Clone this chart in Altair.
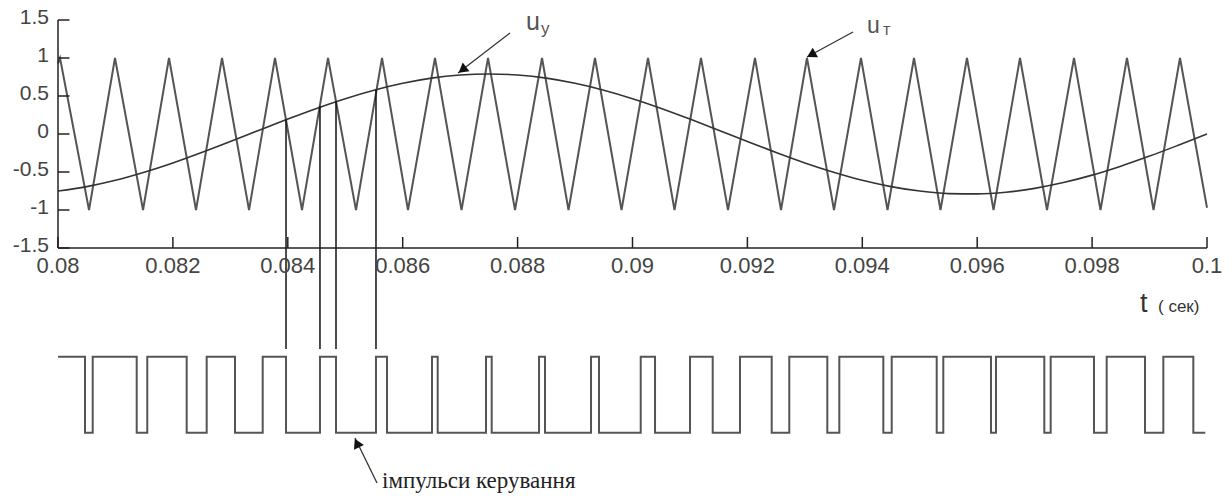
import altair as alt
import pandas as pd

# ---------------- data ----------------
# triangle carrier u_т : times of its peaks (+1) and troughs (-1), seconds
tri_peak_t = [0.080035, 0.080992, 0.081932, 0.082855, 0.083777, 0.084700,
              0.085640, 0.086562, 0.087485, 0.088425, 0.089347, 0.090270,
              0.091192, 0.092132, 0.093037, 0.093977, 0.094900, 0.095822,
              0.096745, 0.097685, 0.098607, 0.099530]
tri_trough_t = [0.080540, 0.081480, 0.082402, 0.083325, 0.084247, 0.085187,
                0.086092, 0.087024, 0.087955, 0.088886, 0.089809, 0.090731,
                0.091662, 0.092585, 0.093507, 0.094439, 0.095361, 0.096284,
                0.097215, 0.098146, 0.099069, 0.100000]
tri_start_v = 0.93
tri_end_v = -0.97

# reference (modulating) signal u_y
sine_t = [0.0800, 0.0805, 0.0810, 0.0815, 0.0820, 0.0825, 0.0830, 0.0835,
          0.0840, 0.0845, 0.0850, 0.0855, 0.0860, 0.0865, 0.0870, 0.0875,
          0.0880, 0.0885, 0.0890, 0.0895, 0.0900, 0.0905, 0.0910, 0.0915,
          0.0920, 0.0925, 0.0930, 0.0935, 0.0940, 0.0945, 0.0950, 0.0955,
          0.0960, 0.0965, 0.0970, 0.0975, 0.0980, 0.0985, 0.0990, 0.0995,
          0.1000]
sine_v = [-0.751, -0.692, -0.609, -0.503, -0.381, -0.244, -0.099, 0.050,
          0.197, 0.337, 0.465, 0.576, 0.667, 0.735, 0.776, 0.790,
          0.776, 0.735, 0.667, 0.576, 0.465, 0.337, 0.197, 0.050,
          -0.099, -0.244, -0.381, -0.503, -0.609, -0.692, -0.751, -0.784,
          -0.788, -0.766, -0.715, -0.639, -0.541, -0.423, -0.291, -0.148,
          0.000]

# control pulses: switching instants (starts high, alternates)
pulse_edges = [0.080470, 0.080604, 0.081370, 0.081554, 0.082240, 0.082588,
               0.083081, 0.083563, 0.083969, 0.084560, 0.084839, 0.085535,
               0.085727, 0.086510, 0.086609, 0.087450, 0.087549, 0.088373,
               0.088477, 0.089278, 0.089417, 0.090143, 0.090392, 0.091001,
               0.091396, 0.091871, 0.092423, 0.092729, 0.093391, 0.093600,
               0.094366, 0.094512, 0.095295, 0.095410, 0.096240, 0.096327,
               0.097168, 0.097279, 0.098033, 0.098254, 0.098921, 0.099240,
               0.099762]
pulse_end_t = 0.09997
pulse_high = -2.93
pulse_low = -3.93

# vertical projection lines from the crossings down to the pulses
conn_t = [0.083969, 0.084560, 0.084839, 0.085535]
conn_top = [0.19, 0.37, 0.43, 0.58]
conn_bottom = -2.83

# axes
x_ticks = [0.080, 0.082, 0.084, 0.086, 0.088, 0.090, 0.092, 0.094, 0.096, 0.098, 0.100]
x_labels = ["0.08", "0.082", "0.084", "0.086", "0.088", "0.09", "0.092",
            "0.094", "0.096", "0.098", "0.1"]
y_ticks = [1.5, 1.0, 0.5, 0.0, -0.5, -1.0, -1.5]
y_labels = ["1.5", "1", "0.5", "0", "-0.5", "-1", "-1.5"]

# ---------------- tables ----------------
tri_t = [0.08]
tri_v = [tri_start_v]
for p, tr in zip(tri_peak_t, tri_trough_t):
    tri_t += [p, tr]
    tri_v += [1.0, -1.0]
tri_v[-1] = tri_end_v
tri_df = pd.DataFrame({"t": tri_t, "v": tri_v, "o": range(len(tri_t))})
sine_df = pd.DataFrame({"t": sine_t, "v": sine_v, "o": range(len(sine_t))})

p_t = [0.08]
p_v = [pulse_high]
lvl = pulse_high
for e in pulse_edges:
    lvl = pulse_low if lvl == pulse_high else pulse_high
    p_t.append(e)
    p_v.append(lvl)
p_t.append(pulse_end_t)
p_v.append(lvl)
pulse_df = pd.DataFrame({"t": p_t, "v": p_v, "o": range(len(p_t))})

conn_df = pd.DataFrame({"t": conn_t, "top": conn_top, "bot": [conn_bottom] * len(conn_t)})

X0, X1, Y0, Y1 = 0.08, 0.1, -4.5, 1.5
xs = alt.Scale(domain=[X0, X1], nice=False, zero=False)
ys = alt.Scale(domain=[Y0, Y1], nice=False, zero=False)

def X(f="t"):
    return alt.X(f + ":Q", scale=xs, axis=None)

def Y(f="v"):
    return alt.Y(f + ":Q", scale=ys, axis=None)

FONT = "Liberation Sans"

tri = alt.Chart(tri_df).mark_line(color="#555555", strokeWidth=2).encode(
    x=X(), y=Y(), order="o:Q")
sine = alt.Chart(sine_df).mark_line(color="#333333", strokeWidth=1.6,
                                    interpolate="monotone").encode(
    x=X(), y=Y(), order="o:Q")
pulse = alt.Chart(pulse_df).mark_line(color="#555555", strokeWidth=2,
                                      interpolate="step-after").encode(
    x=X(), y=Y(), order="o:Q")
conn = alt.Chart(conn_df).mark_rule(color="#111111", strokeWidth=1.5).encode(
    x=X(), y=Y("top"), y2="bot:Q")

# axis lines
axis_df = pd.DataFrame({"x": [X0, X0], "x2": [X0, X1], "y": [-1.5, -1.5], "y2": [1.5, -1.5]})
axes = alt.Chart(axis_df).mark_rule(color="#222222", strokeWidth=1.5).encode(
    x=X("x"), x2="x2:Q", y=Y("y"), y2="y2:Q")

xt_df = pd.DataFrame({"t": x_ticks, "lab": x_labels,
                      "y": [-1.5] * len(x_ticks), "y2": [-1.5 + 0.145] * len(x_ticks)})
xt = alt.Chart(xt_df).mark_rule(color="#222222", strokeWidth=1.5).encode(
    x=X(), y=Y("y"), y2="y2:Q")
xl = alt.Chart(xt_df).mark_text(font=FONT, fontSize=22, color="#444444",
                                baseline="alphabetic", align="center", dy=25).encode(
    x=X(), y=Y("y"), text="lab:N")

yt_df = pd.DataFrame({"v": y_ticks, "lab": y_labels,
                      "x": [X0] * len(y_ticks), "x2": [X0 + 0.0002] * len(y_ticks)})
yt = alt.Chart(yt_df).mark_rule(color="#222222", strokeWidth=1.5).encode(
    x=X("x"), x2="x2:Q", y=Y())
yl = alt.Chart(yt_df).mark_text(font=FONT, fontSize=21, color="#444444",
                                baseline="middle", align="right", dx=-9, dy=-2).encode(
    x=X("x"), y=Y(), text="lab:N")

# annotation texts
txt_df = pd.DataFrame([
    {"t": 0.088146, "v": 1.368, "s": "u", "size": 25, "font": FONT, "c": "#555555"},
    {"t": 0.088407, "v": 1.316, "s": "у", "size": 17, "font": FONT, "c": "#555555"},
    {"t": 0.094082, "v": 1.329, "s": "u", "size": 23, "font": FONT, "c": "#555555"},
    {"t": 0.094360, "v": 1.303, "s": "т", "size": 16, "font": FONT, "c": "#555555"},
    {"t": 0.098834, "v": -2.342, "s": "t", "size": 27, "font": FONT, "c": "#333333"},
    {"t": 0.099147, "v": -2.342, "s": "( сек)", "size": 17, "font": FONT, "c": "#333333"},
    {"t": 0.085640, "v": -4.658, "s": "імпульси керування", "size": 23,
     "font": "Liberation Serif", "c": "#222222"},
])
texts = []
for _, r in txt_df.iterrows():
    texts.append(
        alt.Chart(pd.DataFrame([r])).mark_text(
            font=r["font"], fontSize=int(r["size"]), color=r["c"],
            align="left", baseline="alphabetic").encode(
            x=X(), y=Y(), text="s:N"))

# arrows
arr_df = pd.DataFrame({
    "t": [0.087868, 0.093838, 0.085553],
    "v": [1.329, 1.342, -4.592],
    "t2": [0.086963, 0.093037, 0.085170],
    "v2": [0.803, 1.013, -4.0],
})
head_df = pd.DataFrame({
    "t": [0.087060, 0.093135, 0.085214],
    "v": [0.858, 1.053, -4.085],
    "ang": [232, 241, 334],
})
shafts = alt.Chart(arr_df).mark_rule(color="#333333", strokeWidth=1.3).encode(
    x=X(), x2="t2:Q", y=Y(), y2="v2:Q")
heads = alt.Chart(head_df).mark_point(shape="triangle", filled=True, size=120,
                                      color="#111111", opacity=1).encode(
    x=X(), y=Y(), angle=alt.Angle("ang:Q", scale=None))

chart = alt.layer(tri, sine, conn, pulse, axes, xt, xl, yt, yl, shafts, heads, *texts).properties(
    width=1149, height=456,
    padding={"left": 58, "top": 20, "right": 25, "bottom": 23},
    autosize=alt.AutoSizeParams(type="none"),
    background="white",
).configure_view(strokeWidth=0)

chart.save("out.html", embed_options={"renderer": "svg", "actions": False})
